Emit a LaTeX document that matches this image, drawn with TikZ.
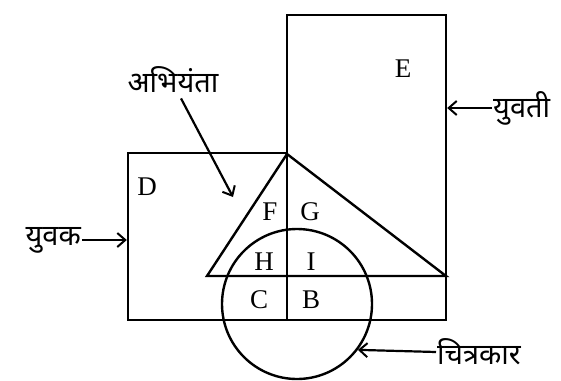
\documentclass[tikz,border=0pt]{standalone}
\usepackage{fontspec}
\setmainfont{Liberation Serif}
\newfontfamily\devfont[Script=Devanagari]{Noto Sans}
\usetikzlibrary{arrows.meta,positioning,calc}

\begin{document}
\begin{tikzpicture}[
  x=1pt, y=-1pt,
  set/.style={draw, line width=2.4pt, inner sep=0pt, minimum width=159pt},
  reg/.style={font=\fontsize{27}{30}\selectfont, inner sep=0pt},
  lbl/.style={font=\devfont\fontsize{29}{32}\selectfont, inner sep=1pt},
  ptr/.style={-{Straight Barb[length=8pt, width=14pt, line width=2pt]}, line width=2.2pt},
]
\useasboundingbox (0,0) rectangle (561,380);

% ------------------------------------------------------------------ sets
\node[set, minimum height=167pt] (rD) at (207.5,236.5) {};
\node[set, minimum height=305pt] (rE) at (366.5,167.5) {};
\coordinate (apex) at (287,154);
\coordinate (tl) at (207,276);
\coordinate (tr) at (446,276);
\draw[line width=2.4pt, line join=miter] (apex) -- (tl) -- (tr) -- cycle;
\node[draw, circle, line width=2.4pt, minimum size=150pt, inner sep=0pt] (ckr) at (297,304) {};

% ------------------------------------------------------------------ regions
\node[reg] (D) at (147,187) {D};
\node[reg] (E) at (403,69) {E};
\node[reg] (F) at (270,212) {F};
\node[reg] (G) at (310,212) {G};
\node[reg] (H) at (264,262) {H};
\node[reg] (I) at (311,262) {I};
\node[reg] (C) at (259,300) {C};
\node[reg] (B) at (311,300) {B};

% ------------------------------------------------------------------ labels
\node[lbl] (abh) at (173,80) {अभियंता};
\node[lbl, anchor=east] (yuvak) at (82,240) {युवक};
\node[lbl, anchor=west] (yuvati) at (492,108) {युवती};
\node[lbl, anchor=west] (chitr) at (436,352) {चित्रकार};

\coordinate (abhtip) at (233,197);
\draw[ptr] ($(abh.south)+(8,4)$) -- (abhtip);
\draw[ptr] (yuvak.east) -- (yuvak.east -| rD.west);
\draw[ptr] (yuvati.west) -- (yuvati.west -| rE.east);
\draw[ptr] (chitr.west) -- (ckr.-37);
\end{tikzpicture}
\end{document}
